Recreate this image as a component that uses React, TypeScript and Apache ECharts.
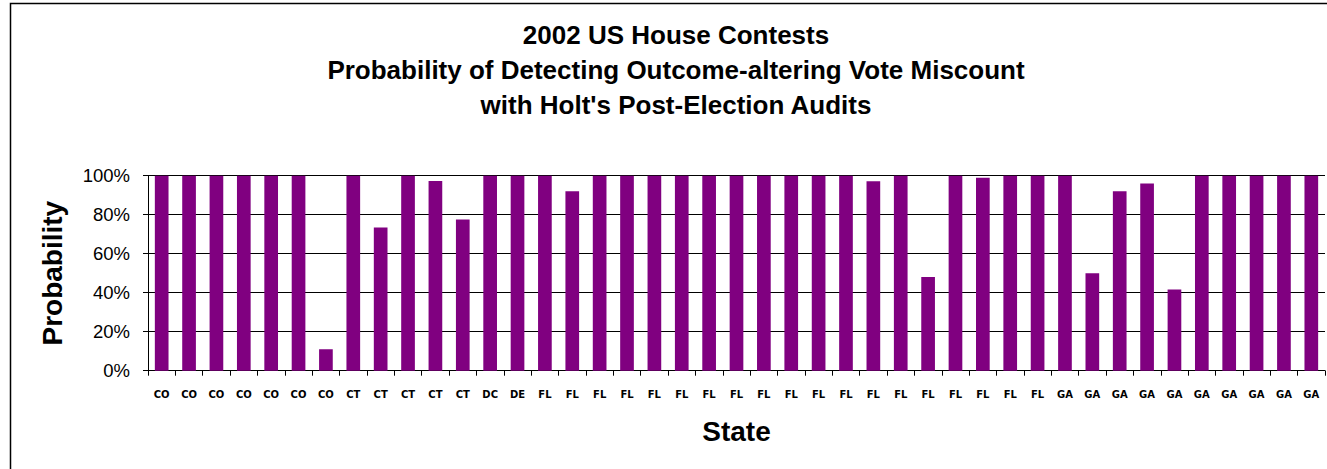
import React, { useEffect, useRef } from "react";
import * as echarts from "echarts";

const titleLines = [
  "2002 US House Contests",
  "Probability of Detecting Outcome-altering Vote Miscount",
  "with Holt's Post-Election Audits",
];

const states = [
  "CO", "CO", "CO", "CO", "CO", "CO", "CO",
  "CT", "CT", "CT", "CT", "CT",
  "DC", "DE",
  "FL", "FL", "FL", "FL", "FL", "FL", "FL", "FL", "FL", "FL",
  "FL", "FL", "FL", "FL", "FL", "FL", "FL", "FL", "FL",
  "GA", "GA", "GA", "GA", "GA", "GA", "GA", "GA", "GA", "GA",
];

const probability = [
  100, 100, 100, 100, 100, 100, 11,
  100, 73.5, 100, 97.3, 77.6,
  100, 100,
  100, 92, 100, 100, 100, 100, 100, 100, 100, 100,
  100, 100, 97.2, 100, 48, 100, 99, 100, 100,
  100, 50, 92, 96, 41.7, 100, 100, 100, 100, 100,
];

const yTicks = [0, 20, 40, 60, 80, 100];

export default function App() {
  const ref = useRef<HTMLDivElement>(null);
  useEffect(() => {
    if (!ref.current) return;
    const chart = echarts.init(ref.current, null, { renderer: "svg" });
    chart.setOption({
      animation: false,
      backgroundColor: "#ffffff",
      title: {
        text: titleLines.join("\n"),
        left: 676,
        top: 17,
        padding: 0,
        textAlign: "center",
        textStyle: {
          fontFamily: "Liberation Sans, Arial, sans-serif",
          fontWeight: "bold",
          fontSize: 26,
          lineHeight: 35,
          color: "#000",
        },
      },
      graphic: [
        {
          type: "rect",
          shape: { x: 10.5, y: 3.5, width: 1400, height: 1000 },
          style: { fill: "none", stroke: "#000", lineWidth: 1.5 },
          silent: true,
        },
      ],
      grid: { left: 148, right: 2, top: 175.7, bottom: 98.3, containLabel: false },
      xAxis: {
        type: "category",
        data: states,
        name: "State",
        nameLocation: "middle",
        nameGap: 47,
        nameTextStyle: {
          fontFamily: "Liberation Sans, Arial, sans-serif",
          fontWeight: "bold",
          fontSize: 28,
          color: "#000",
        },
        axisLine: { lineStyle: { color: "#000", width: 1 } },
        axisTick: { show: true, alignWithLabel: false, length: 5, lineStyle: { color: "#000" } },
        axisLabel: {
          interval: 0,
          margin: 19,
          fontFamily: "DejaVu Sans, sans-serif",
          fontWeight: "bold",
          fontSize: 10,
          color: "#000",
        },
      },
      yAxis: {
        type: "value",
        min: yTicks[0],
        max: yTicks[yTicks.length - 1],
        interval: 20,
        name: "Probability",
        nameLocation: "middle",
        nameGap: 82,
        nameTextStyle: {
          fontFamily: "Liberation Sans, Arial, sans-serif",
          fontWeight: "bold",
          fontSize: 28,
          color: "#000",
        },
        axisLine: { show: true, lineStyle: { color: "#000", width: 1 } },
        axisTick: { show: true, length: 5, inside: false, lineStyle: { color: "#000" } },
        axisLabel: {
          formatter: "{value}%",
          margin: 18,
          fontFamily: "Liberation Sans, Arial, sans-serif",
          fontSize: 18.5,
          color: "#000",
        },
        splitLine: { show: true, lineStyle: { color: "#000", width: 1 } },
      },
      series: [
        {
          type: "bar",
          data: probability,
          barWidth: "50%",
          itemStyle: { color: "#800080" },
        },
      ],
    });
    return () => chart.dispose();
  }, []);
  return (
    <div
      ref={ref}
      style={{ position: "fixed", left: 0, top: 0, width: 1327, height: 469 }}
    />
  );
}
